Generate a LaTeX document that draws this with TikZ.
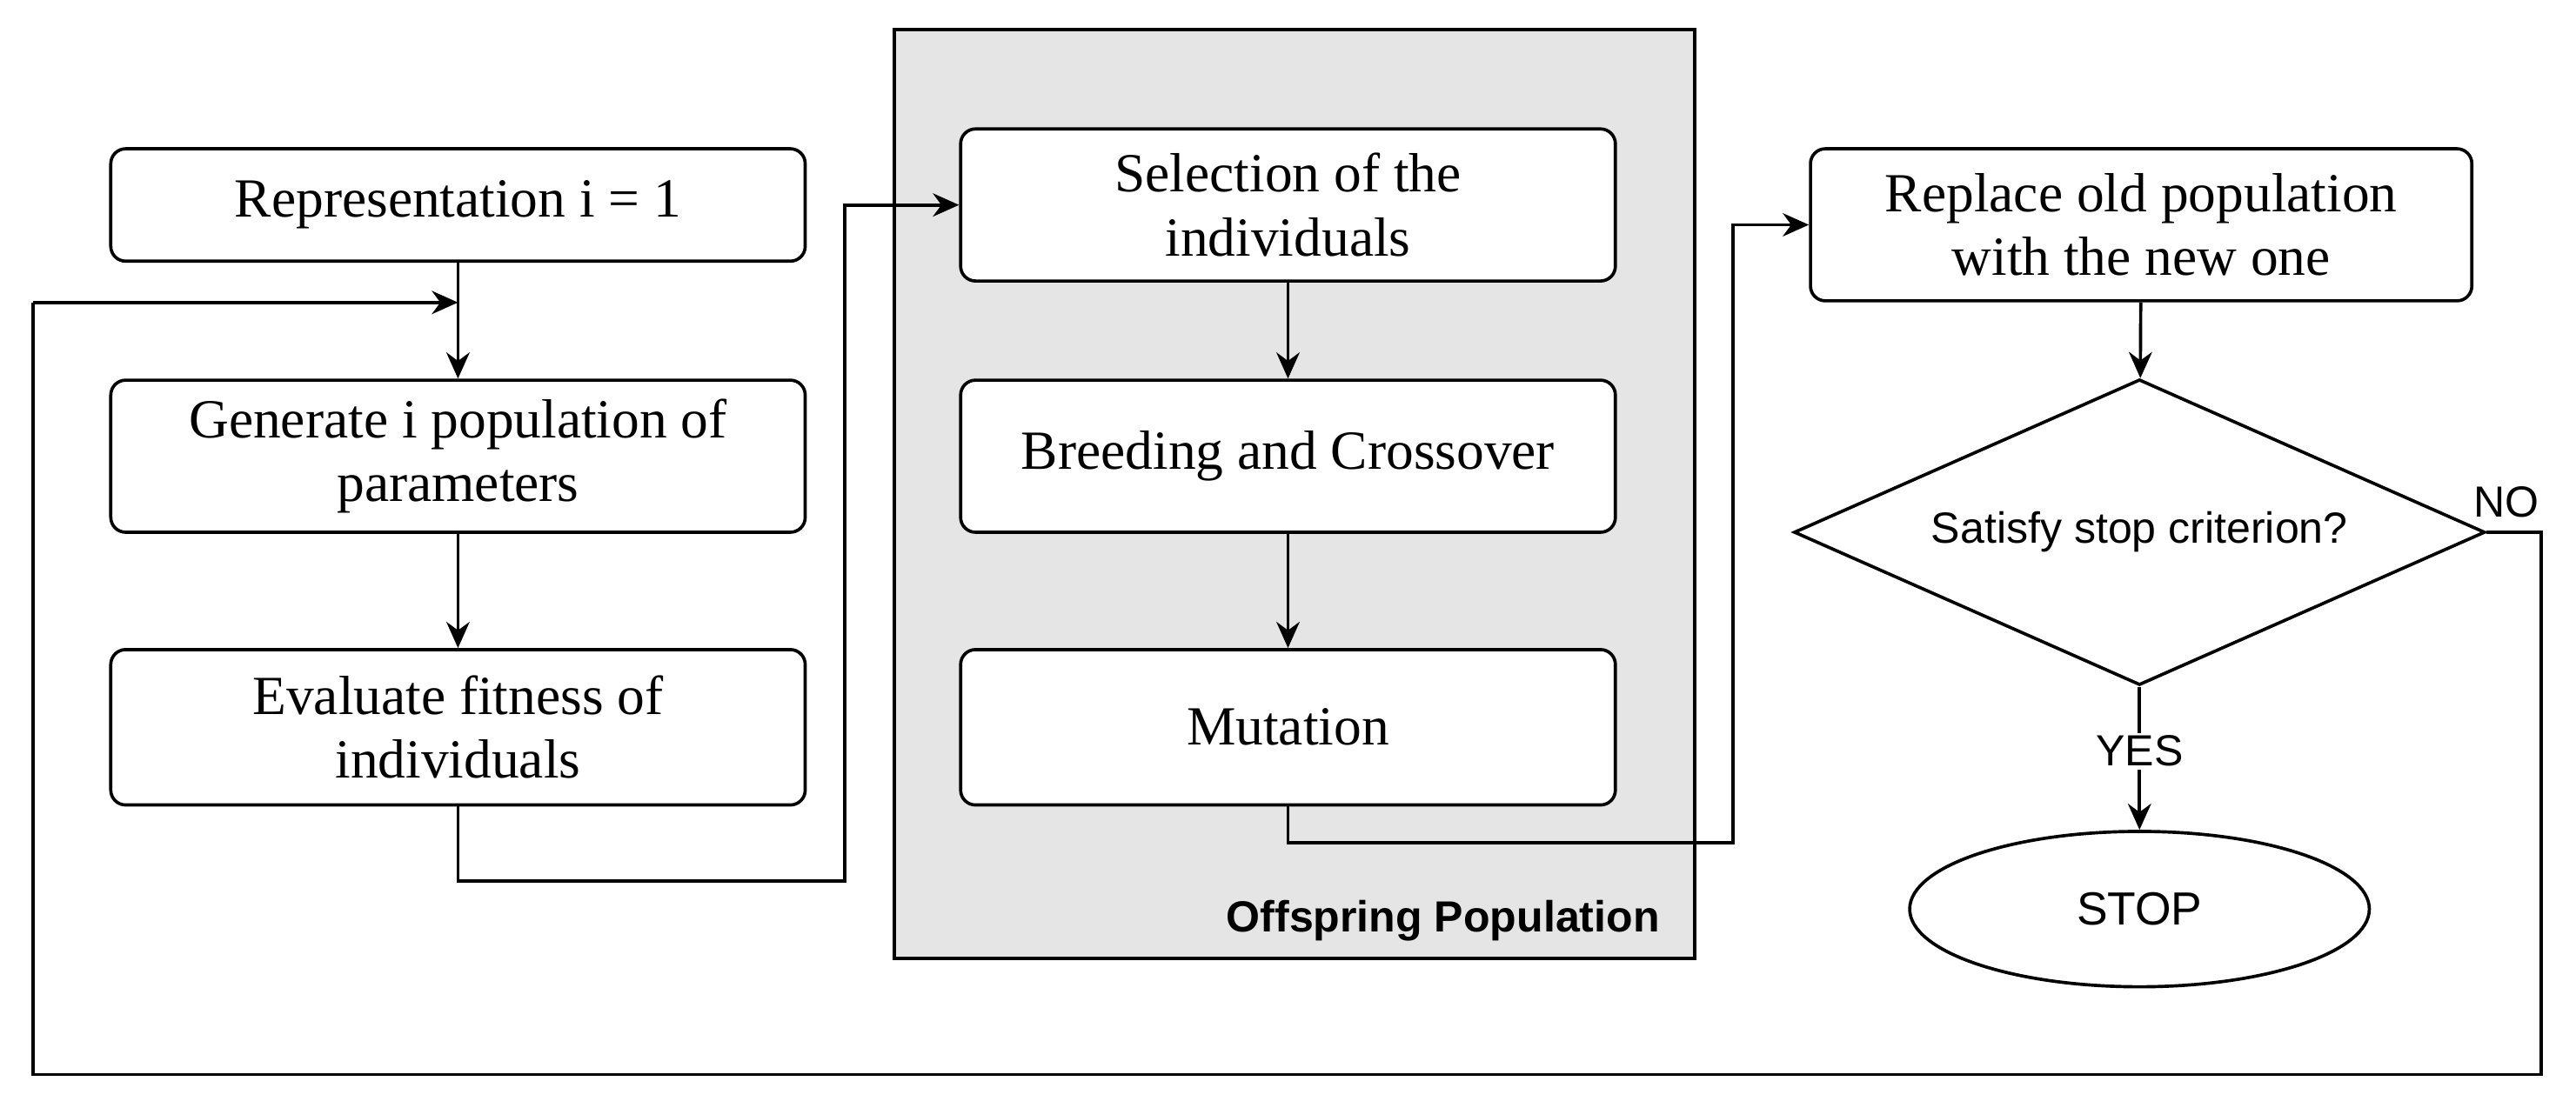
\documentclass[tikz,border=0pt]{standalone}
\usepackage{fontspec}
\setmainfont{Liberation Serif}
\newfontfamily\sansf{Liberation Sans}
\usetikzlibrary{shapes.geometric,arrows.meta}
\begin{document}
\begin{tikzpicture}[x=0.02cm,y=-0.02cm,
  box/.style={draw,line width=1.1pt,rounded corners=0.18cm,fill=white,font=\fontsize{19}{22}\selectfont,align=center,inner sep=0pt},
  ln/.style={line width=1.1pt},
  ar/.style={ln,-{Stealth[length=9pt,width=8pt]}},
  lab/.style={font=\sansf\fontsize{15}{18}\selectfont,fill=white,inner sep=1pt}]
\useasboundingbox (0,0) rectangle (1558,670);
\node[draw,line width=1.1pt,fill=black!10,minimum width=484*0.02cm,minimum height=562*0.02cm,inner sep=0pt] (grp) at (783,299) {};
\node[font=\sansf\bfseries\fontsize{15}{18}\selectfont,anchor=east] (gl) at (1010,557) {Offspring Population};
\node[box,minimum width=420*0.02cm,minimum height=68*0.02cm] (rep) at (277,124) {Representation i = 1};
\node[box,minimum width=420*0.02cm,minimum height=92*0.02cm] (gen) at (277,276) {Generate i population of\\parameters};
\node[box,minimum width=420*0.02cm,minimum height=94*0.02cm] (eva) at (277,440) {Evaluate fitness of\\individuals};
\node[box,minimum width=396*0.02cm,minimum height=92*0.02cm] (sel) at (779,124) {Selection of the\\individuals};
\node[box,minimum width=396*0.02cm,minimum height=92*0.02cm] (bre) at (779,276) {Breeding and Crossover};
\node[box,minimum width=396*0.02cm,minimum height=94*0.02cm] (mut) at (779,440) {Mutation};
\node[box,minimum width=400*0.02cm,minimum height=92*0.02cm] (rpl) at (1295,136) {Replace old population\\with the new one};
\node[diamond,draw,line width=1.1pt,aspect=2.26,minimum width=418*0.02cm,minimum height=185*0.02cm,inner sep=0pt,font=\sansf\fontsize{15}{18}\selectfont] (dec) at (1294,322) {Satisfy stop criterion?};
\node[ellipse,draw,line width=1.1pt,minimum width=278*0.02cm,minimum height=94*0.02cm,inner sep=0pt,font=\sansf\fontsize{16}{18}\selectfont] (stop) at (1294,550) {STOP};
\coordinate (lp) at (277,183);
\draw[ar] (rep) -- (gen);
\draw[ar] (gen) -- (eva);
\draw[ar] (sel) -- (bre);
\draw[ar] (bre) -- (mut);
\draw[ar] (rpl) -- (dec);
\draw[ar] (dec) -- node[lab,pos=0.45] {YES} (stop);
\draw[ar] (eva.south) -- (277,533) -- (511,533) -- (511,124) -- (sel.west);
\draw[ar] (mut.south) -- (779,510) -- (1048,510) -- (1048,136) -- (rpl.west);
\draw[ln] (dec.east) -- (1537,322) -- (1537,650) -- (20,650) -- (20,183);
\draw[ar] (20,183) -- (lp);
\node[lab,anchor=south west] (no) at (1494,315) {NO};
\end{tikzpicture}
\end{document}
